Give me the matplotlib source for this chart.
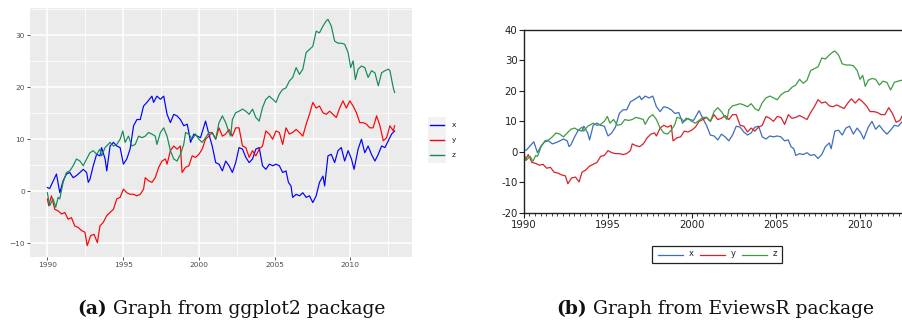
import matplotlib
matplotlib.use("Agg")
import matplotlib.pyplot as plt
from matplotlib.lines import Line2D
from matplotlib.patches import Rectangle
from matplotlib.ticker import MultipleLocator

# ---- series x ----
x_time = [1990.00, 1990.15, 1990.60, 1990.82, 1991.04, 1991.26, 1991.48, 1991.70, 1991.92,
          1992.15, 1992.37, 1992.59, 1992.70, 1992.81, 1993.03, 1993.25, 1993.47, 1993.58,
          1993.81, 1993.92, 1994.14, 1994.36, 1994.58, 1994.80, 1995.02, 1995.24, 1995.46,
          1995.69, 1995.91, 1996.13, 1996.35, 1996.57, 1996.90, 1997.01, 1997.23, 1997.46,
          1997.68, 1997.90, 1998.12, 1998.34, 1998.56, 1998.78, 1999.00, 1999.23, 1999.34,
          1999.45, 1999.67, 1999.89, 2000.11, 2000.44, 2000.66, 2000.88, 2001.11, 2001.33,
          2001.55, 2001.77, 2001.99, 2002.21, 2002.43, 2002.65, 2002.88, 2003.10, 2003.32,
          2003.54, 2003.76, 2003.98, 2004.20, 2004.42, 2004.65, 2004.87, 2005.09, 2005.31,
          2005.53, 2005.75, 2005.91, 2006.08, 2006.19, 2006.42, 2006.64, 2006.86, 2007.08,
          2007.30, 2007.52, 2007.74, 2007.96, 2008.19, 2008.30, 2008.52, 2008.74, 2008.96,
          2009.18, 2009.40, 2009.62, 2009.85, 2010.07, 2010.24, 2010.51, 2010.73, 2010.95,
          2011.17, 2011.39, 2011.62, 2011.84, 2012.06, 2012.28, 2012.50, 2012.72, 2012.92]
x_vals = [0.7, 0.5, 3.3, -0.3, 2.0, 3.3, 3.6, 2.6, 3.0,
          3.6, 4.2, 3.6, 1.7, 2.3, 4.9, 7.1, 6.8, 8.4,
          6.2, 3.9, 8.7, 9.4, 8.7, 8.4, 5.2, 6.2, 8.1,
          12.6, 13.8, 13.8, 16.4, 17.1, 18.3, 17.1, 18.3, 17.7,
          18.3, 14.8, 13.2, 14.8, 14.5, 13.8, 12.6, 12.9, 11.3,
          9.4, 11.0, 10.6, 10.3, 13.5, 11.0, 8.7, 5.5, 5.2,
          3.9, 5.8, 4.9, 3.6, 5.5, 8.4, 8.1, 6.5, 5.5,
          6.2, 8.1, 8.4, 4.9, 4.2, 5.2, 4.9, 5.2, 4.9,
          3.6, 3.9, 1.7, 1.0, -1.2, -0.6, -0.9, -0.3, -1.2,
          -0.9, -2.2, -0.9, 1.7, 2.9, 1.0, 6.8, 7.1, 5.5,
          7.8, 8.4, 5.8, 7.8, 6.2, 4.2, 8.1, 10.0, 7.4,
          8.7, 7.1, 5.8, 7.1, 8.7, 8.4, 9.7, 11.0, 11.6]

# ---- series y ----
y_time = [1990.00, 1990.09, 1990.27, 1990.38, 1990.49, 1990.71, 1990.93, 1991.15, 1991.37,
          1991.59, 1991.81, 1992.04, 1992.26, 1992.48, 1992.63, 1992.85, 1993.08, 1993.30,
          1993.47, 1993.69, 1993.92, 1994.14, 1994.36, 1994.58, 1994.80, 1995.02, 1995.24,
          1995.46, 1995.69, 1995.91, 1996.13, 1996.35, 1996.46, 1996.68, 1996.90, 1997.12,
          1997.35, 1997.57, 1997.79, 1997.90, 1998.12, 1998.34, 1998.56, 1998.78, 1998.89,
          1999.12, 1999.34, 1999.56, 1999.78, 2000.00, 2000.22, 2000.44, 2000.66, 2000.88,
          2001.11, 2001.33, 2001.55, 2001.77, 2001.99, 2002.21, 2002.43, 2002.65, 2002.88,
          2003.10, 2003.32, 2003.54, 2003.76, 2003.98, 2004.20, 2004.42, 2004.65, 2004.87,
          2005.09, 2005.31, 2005.53, 2005.75, 2005.97, 2006.19, 2006.42, 2006.64, 2006.86,
          2007.08, 2007.30, 2007.52, 2007.74, 2007.96, 2008.19, 2008.41, 2008.63, 2008.85,
          2009.07, 2009.29, 2009.51, 2009.73, 2009.96, 2010.18, 2010.40, 2010.62, 2010.84,
          2011.06, 2011.28, 2011.50, 2011.73, 2011.95, 2012.17, 2012.39, 2012.61, 2012.83,
          2012.92]
y_vals = [-1.5, -2.8, -0.9, -2.2, -3.5, -3.8, -4.4, -4.1, -5.4,
          -5.1, -6.7, -7.0, -7.6, -7.9, -10.5, -8.6, -8.3, -9.9,
          -6.7, -6.0, -4.7, -4.1, -3.5, -1.5, -1.2, 0.4, -0.3,
          -0.6, -0.6, -0.9, -0.6, 0.4, 2.6, 2.0, 1.7, 2.6,
          4.6, 5.8, 6.2, 5.2, 7.8, 8.7, 8.1, 8.7, 3.6,
          4.6, 4.9, 6.8, 6.5, 7.1, 8.1, 10.0, 10.6, 11.3,
          10.0, 12.2, 10.6, 11.0, 11.9, 10.6, 12.2, 12.2, 8.7,
          8.4, 6.5, 7.8, 6.8, 8.1, 8.7, 11.6, 11.0, 10.0,
          11.6, 11.3, 9.0, 12.2, 11.0, 11.3, 11.9, 11.3, 10.6,
          12.9, 14.8, 17.1, 16.0, 16.4, 15.1, 14.8, 15.4, 14.8,
          14.2, 16.0, 17.4, 16.0, 17.4, 16.4, 15.1, 13.2, 13.2,
          12.9, 12.2, 12.2, 14.5, 12.6, 9.7, 10.3, 12.6, 11.6,
          12.6]

# ---- series z ----
z_time = [1990.00, 1990.15, 1990.38, 1990.55, 1990.71, 1990.82, 1991.04, 1991.26, 1991.48,
          1991.70, 1991.92, 1992.15, 1992.37, 1992.59, 1992.81, 1993.03, 1993.25, 1993.47,
          1993.58, 1993.81, 1994.14, 1994.36, 1994.58, 1994.80, 1994.98, 1995.13, 1995.35,
          1995.58, 1995.80, 1996.02, 1996.24, 1996.46, 1996.68, 1996.90, 1997.12, 1997.23,
          1997.46, 1997.68, 1997.90, 1998.12, 1998.34, 1998.56, 1998.78, 1999.00, 1999.12,
          1999.34, 1999.56, 1999.78, 2000.00, 2000.22, 2000.44, 2000.66, 2000.88, 2001.11,
          2001.33, 2001.55, 2001.77, 2001.99, 2002.10, 2002.21, 2002.43, 2002.65, 2002.88,
          2003.10, 2003.32, 2003.54, 2003.76, 2003.98, 2004.20, 2004.42, 2004.65, 2004.87,
          2005.09, 2005.31, 2005.53, 2005.75, 2005.97, 2006.19, 2006.42, 2006.64, 2006.86,
          2007.08, 2007.30, 2007.52, 2007.74, 2007.96, 2008.19, 2008.41, 2008.52, 2008.74,
          2008.96, 2009.18, 2009.40, 2009.62, 2009.85, 2010.02, 2010.18, 2010.33, 2010.51,
          2010.73, 2010.95, 2011.17, 2011.39, 2011.62, 2011.84, 2012.06, 2012.28, 2012.50,
          2012.61, 2012.83, 2012.92]
z_vals = [-0.3, -2.8, -1.5, -3.1, -1.2, -1.5, 1.7, 3.6, 3.9,
          4.9, 6.2, 5.8, 4.9, 6.2, 7.4, 7.8, 7.1, 8.1,
          6.8, 8.4, 9.4, 8.7, 9.0, 10.0, 11.6, 9.4, 10.6,
          8.7, 9.0, 10.6, 10.3, 10.6, 11.3, 11.0, 10.6, 9.0,
          11.3, 12.2, 10.6, 7.8, 6.2, 5.8, 7.1, 9.0, 11.3,
          11.0, 10.0, 11.0, 10.0, 9.4, 10.3, 11.3, 11.3, 10.0,
          13.2, 14.5, 13.2, 11.3, 10.6, 13.8, 15.1, 15.4, 15.8,
          15.4, 14.8, 15.8, 14.2, 13.5, 16.1, 17.7, 18.3, 17.7,
          17.1, 18.7, 19.6, 19.9, 21.2, 21.9, 23.8, 22.5, 23.5,
          26.7, 27.3, 27.9, 30.8, 30.5, 31.8, 32.8, 33.1, 31.8,
          28.9, 28.5, 28.5, 28.3, 26.7, 23.8, 25.1, 21.5, 23.5,
          24.1, 23.8, 21.9, 23.2, 22.8, 20.3, 22.8, 23.2, 23.5,
          23.2, 19.9, 19.0]

series_names = ["x", "y", "z"]
series = [(x_time, x_vals), (y_time, y_vals), (z_time, z_vals)]

gg_colors = ["#0000FF", "#FF0000", "#128A56"]
ev_colors = ["#3C6DBE", "#D7222C", "#3E9B44"]

year_ticks = [1990, 1995, 2000, 2005, 2010]

W, H = 902, 322
fig = plt.figure(figsize=(W / 100, H / 100), dpi=100)
fig.patch.set_facecolor("white")


def px_box(left, top, right, bottom):
    return [left / W, 1 - bottom / H, (right - left) / W, (bottom - top) / H]


# ================= ggplot2-style panel =================
ax_a = fig.add_axes(px_box(30, 8, 412, 257))
ax_a.set_facecolor("#EBEBEB")
for s in ax_a.spines.values():
    s.set_visible(False)

for (t, v), c in zip(series, gg_colors):
    ax_a.plot(t, v, color=c, lw=0.85, solid_joinstyle="round")

all_t = [tt for t, _ in series for tt in t]
all_v = [vv for _, v in series for vv in v]
tpad = 0.05 * (max(all_t) - min(all_t))
vpad = 0.05 * (max(all_v) - min(all_v))
ax_a.set_xlim(min(all_t) - tpad, max(all_t) + tpad)
ax_a.set_ylim(min(all_v) - vpad, max(all_v) + vpad)

ax_a.set_xticks(year_ticks)
ax_a.set_xticklabels([str(y) for y in year_ticks])
ax_a.set_yticks([-10, 0, 10, 20, 30])
ax_a.set_yticklabels(["\u221210", "0", "10", "20", "30"])
ax_a.xaxis.set_minor_locator(MultipleLocator(2.5))
ax_a.yaxis.set_minor_locator(MultipleLocator(5))
ax_a.grid(which="major", color="white", lw=1.1)
ax_a.grid(which="minor", color="white", lw=0.55)
ax_a.set_axisbelow(True)
ax_a.tick_params(which="major", length=2.2, width=0.6, color="#333333",
                 labelsize=5.3, labelcolor="#4D4D4D", pad=1.5)
ax_a.tick_params(which="minor", length=0)

# ggplot legend: grey key boxes with coloured lines
key_left, key_right = 428, 446
fig.add_artist(Rectangle((key_left / W, 1 - 163 / H), (key_right - key_left) / W, 46 / H,
                         transform=fig.transFigure, facecolor="#F2F2F2", edgecolor="none"))
for i, (name, c) in enumerate(zip(series_names, gg_colors)):
    yy = 1 - (125 + 15 * i) / H
    fig.add_artist(Line2D([430 / W, 444 / W], [yy, yy], transform=fig.transFigure,
                          color=c, lw=1.0))
    fig.text(452 / W, yy, name, fontsize=5.3, color="#1A1A1A", va="center", ha="left")

# ================= EViews-style panel =================
ax_b = fig.add_axes(px_box(523.7, 30, 523.7 + 23 * 16.8, 212.7))
for (t, v), c in zip(series, ev_colors):
    ax_b.plot(t, v, color=c, lw=0.9)
ax_b.set_xlim(1990, 2013)
ax_b.set_ylim(-20, 40)
ax_b.set_yticks([-20, -10, 0, 10, 20, 30, 40])
ax_b.set_yticklabels(["-20", "-10", "0", "10", "20", "30", "40"])
ax_b.set_xticks(year_ticks)
ax_b.set_xticklabels([str(y) for y in year_ticks])
ax_b.xaxis.set_minor_locator(MultipleLocator(1 / 3))
for s in ax_b.spines.values():
    s.set_color("#222222")
    s.set_linewidth(1.0)
ax_b.tick_params(which="major", length=3.5, width=0.8, color="#222222",
                 labelsize=7.3, labelcolor="#222222", pad=1.5)
ax_b.tick_params(which="minor", length=2, width=0.6, color="#222222")
ax_b.tick_params(axis="y", pad=1)

# EViews legend box below the panel
fig.add_artist(Rectangle((652 / W, 1 - 263 / H), 130 / W, 17.3 / H,
                         transform=fig.transFigure, facecolor="white",
                         edgecolor="#222222", lw=0.9))
for i, (name, c) in enumerate(zip(series_names, ev_colors)):
    x0 = 658 + 42 * i
    yy = 1 - 255 / H
    fig.add_artist(Line2D([x0 / W, (x0 + 25) / W], [yy, yy], transform=fig.transFigure,
                          color=c, lw=0.9))
    fig.text((x0 + 31) / W, 1 - 253 / H, name, fontsize=6, color="#222222",
             va="center", ha="left")

# ================= sub-captions =================
cap_font = dict(family="DejaVu Serif", fontsize=13.5, color="#111111")
renderer = fig.canvas.get_renderer()
for label, rest, cx in [("(a)", " Graph from ggplot2 package", 231),
                        ("(b)", " Graph from EviewsR package", 715)]:
    t1 = fig.text(0, 1 - 314 / H, label, fontweight="bold", va="baseline", **cap_font)
    t2 = fig.text(0, 1 - 314 / H, rest, va="baseline", **cap_font)
    w1 = t1.get_window_extent(renderer).width
    w2 = t2.get_window_extent(renderer).width
    start = cx - (w1 + w2) / 2
    t1.set_x(start / W)
    t2.set_x((start + w1) / W)

fig.savefig("out.png", dpi=100)
